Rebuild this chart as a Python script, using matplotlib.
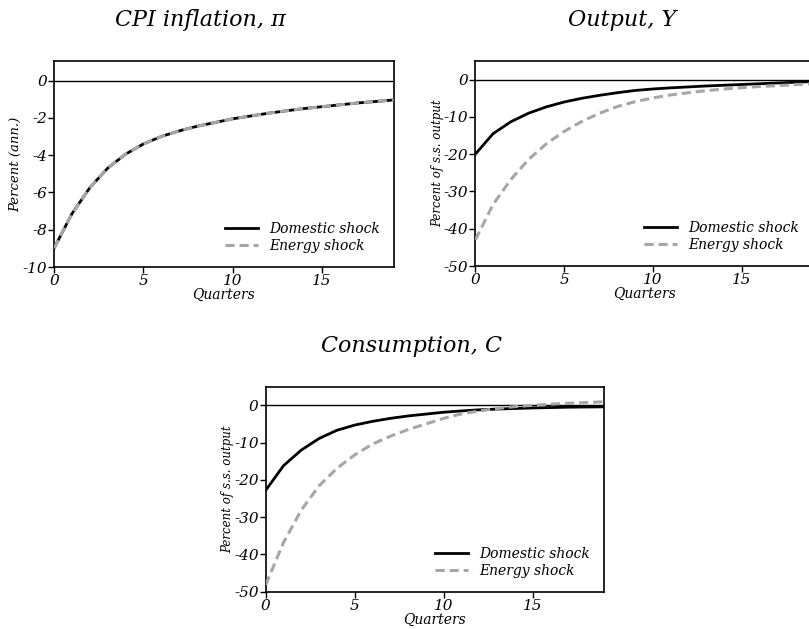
import matplotlib
matplotlib.use("Agg")
import matplotlib.pyplot as plt

plt.rcParams['font.family'] = ['DejaVu Serif']
plt.rcParams['font.style'] = 'italic'

quarters = list(range(20))

cpi_domestic = [-9.0, -7.15, -5.75, -4.7, -3.95, -3.4, -3.0, -2.7, -2.45, -2.25,
                -2.05, -1.9, -1.75, -1.62, -1.5, -1.4, -1.3, -1.2, -1.12, -1.04]
cpi_energy = [-9.0, -7.15, -5.75, -4.7, -3.95, -3.4, -3.0, -2.7, -2.45, -2.25,
              -2.05, -1.9, -1.75, -1.62, -1.5, -1.4, -1.3, -1.2, -1.12, -1.04]

output_domestic = [-20.0, -14.5, -11.3, -9.0, -7.3, -6.0, -5.0, -4.2, -3.5, -2.9,
                   -2.5, -2.2, -1.95, -1.7, -1.5, -1.3, -1.1, -0.9, -0.7, -0.5]
output_energy = [-43.0, -33.5, -26.8, -21.4, -17.2, -13.9, -11.2, -9.0, -7.2, -5.9,
                 -4.9, -4.1, -3.5, -2.95, -2.5, -2.15, -1.85, -1.6, -1.35, -1.1]

cons_domestic = [-22.8, -16.2, -12.0, -8.9, -6.7, -5.3, -4.3, -3.5, -2.85, -2.35,
                 -1.85, -1.5, -1.2, -1.0, -0.85, -0.7, -0.6, -0.5, -0.45, -0.4]
cons_energy = [-48.2, -36.8, -28.1, -21.6, -16.9, -13.3, -10.4, -8.3, -6.5, -5.0,
               -3.5, -2.3, -1.5, -0.85, -0.35, 0.0, 0.3, 0.55, 0.75, 0.95]

x_ticks = [0, 5, 10, 15]
cpi_ticks = [0, -2, -4, -6, -8, -10]
pct_ticks = [0, -10, -20, -30, -40, -50]

W, H = 809, 629
fig = plt.figure(figsize=(W / 100, H / 100), dpi=100)


def px_axes(left, right, top, bottom):
    return fig.add_axes([left / W, 1 - bottom / H, (right - left) / W, (bottom - top) / H])


def draw_panel(ax, dom, ene, yticks, ylim, ylabel, ylabel_size):
    ax.axhline(0, color='black', lw=1.0, zorder=1)
    ax.plot(quarters, dom, color='black', lw=2.0, label='Domestic shock', zorder=2)
    ax.plot(quarters, ene, color='#a6a6a6', lw=2.2, ls=(0, (3, 1.6)),
            label='Energy shock', zorder=3)
    ax.set_xlim(0, 19)
    ax.set_ylim(*ylim)
    ax.set_xticks(x_ticks)
    ax.set_yticks(yticks)
    ax.set_yticklabels([str(t) for t in yticks])
    ax.tick_params(direction='out', length=4, width=1, labelsize=11, pad=1)
    for s in ax.spines.values():
        s.set_linewidth(1.2)
    ax.set_xlabel('Quarters', fontsize=10, labelpad=0)
    ax.set_ylabel(ylabel, fontsize=ylabel_size, labelpad=0)
    ax.legend(loc='lower right', frameon=False, fontsize=10, handlelength=2.4,
              handletextpad=0.8, labelspacing=0.2, borderaxespad=0.6)


ax1 = px_axes(54, 393.7, 61, 267)
draw_panel(ax1, cpi_domestic, cpi_energy, cpi_ticks, (-10, 1.05), 'Percent (ann.)', 9.5)

ax2 = px_axes(475.3, 813, 61, 266)
draw_panel(ax2, output_domestic, output_energy, pct_ticks, (-50, 5), 'Percent of s.s. output', 8.5)

ax3 = px_axes(265.7, 603.7, 386.7, 591.7)
draw_panel(ax3, cons_domestic, cons_energy, pct_ticks, (-50, 5), 'Percent of s.s. output', 8.5)

fig.text(200 / W, 1 - 20 / H, 'CPI inflation, \u03c0', ha='center', va='center', fontsize=16)
fig.text(621.7 / W, 1 - 20 / H, 'Output, Y', ha='center', va='center', fontsize=16)
fig.text(411.7 / W, 1 - 346 / H, 'Consumption, C', ha='center', va='center', fontsize=16)

fig.savefig('out.png', dpi=100)
